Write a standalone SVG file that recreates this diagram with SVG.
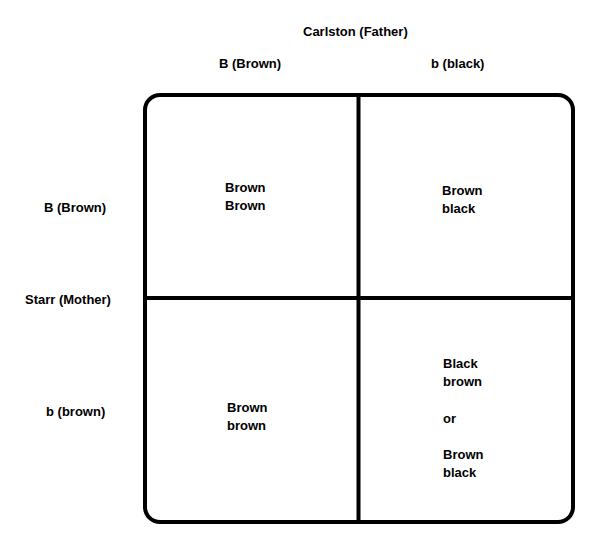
<svg xmlns="http://www.w3.org/2000/svg" width="614" height="549" viewBox="0 0 614 549">
<style>
text{font-family:"Liberation Sans",Arial,sans-serif;font-weight:bold;font-size:13px;fill:#000}
.ln{stroke:#000;stroke-width:4;fill:none}
</style>
<rect width="614" height="549" fill="#fff"/>
<g id="labels">
<text x="303" y="36">Carlston (Father)</text>
<text x="219" y="68">B (Brown)</text>
<text x="431" y="68">b (black)</text>
<text x="44" y="212">B (Brown)</text>
<text x="25" y="304">Starr (Mother)</text>
<text x="46" y="416">b (brown)</text>
</g>
<g id="grid">
<rect class="ln" x="145" y="95" width="428" height="427" rx="15" ry="15"/>
</g>
<g id="connectors">
<line class="ln" x1="358.5" y1="95" x2="358.5" y2="522"/>
<line class="ln" x1="145" y1="298" x2="573" y2="298"/>
</g>
<g id="cell-BB">
<text x="225" y="192">Brown</text>
<text x="225" y="210">Brown</text>
</g>
<g id="cell-Bb">
<text x="442" y="195">Brown</text>
<text x="442" y="213">black</text>
</g>
<g id="cell-bB">
<text x="227" y="412">Brown</text>
<text x="227" y="430">brown</text>
</g>
<g id="cell-bb">
<text x="443" y="368">Black</text>
<text x="443" y="386">brown</text>
<text x="443" y="423">or</text>
<text x="443" y="459">Brown</text>
<text x="443" y="477">black</text>
</g>
</svg>
